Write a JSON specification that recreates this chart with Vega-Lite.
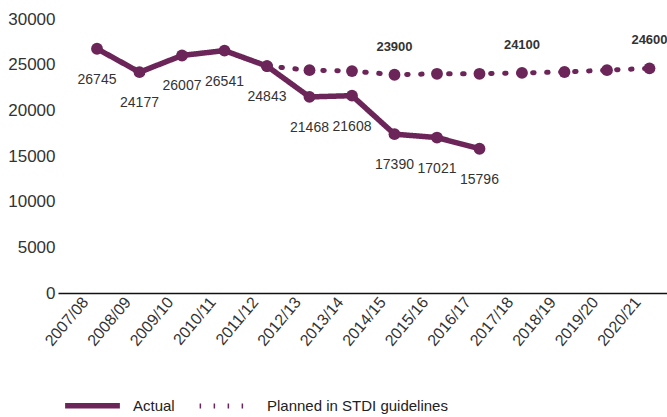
{
  "$schema": "https://vega.github.io/schema/vega-lite/v6.json",
  "width": 609,
  "height": 274,
  "autosize": {"type": "none"},
  "padding": {"left": 58, "top": 19, "right": 0, "bottom": 124},
  "background": "white",
  "config": {
    "view": {"stroke": null},
    "font": "Liberation Sans",
    "axis": {"grid": false, "ticks": false, "labelFont": "Liberation Sans", "labelColor": "#333333"}
  },
  "data": {
    "values": [
      {"year": "2007/08", "series": "Actual", "value": 26745, "show": true},
      {"year": "2008/09", "series": "Actual", "value": 24177, "show": true},
      {"year": "2009/10", "series": "Actual", "value": 26007, "show": true},
      {"year": "2010/11", "series": "Actual", "value": 26541, "show": true},
      {"year": "2011/12", "series": "Actual", "value": 24843, "show": true},
      {"year": "2012/13", "series": "Actual", "value": 21468, "show": true},
      {"year": "2013/14", "series": "Actual", "value": 21608, "show": true},
      {"year": "2014/15", "series": "Actual", "value": 17390, "show": true},
      {"year": "2015/16", "series": "Actual", "value": 17021, "show": true},
      {"year": "2016/17", "series": "Actual", "value": 15796, "show": true},
      {"year": "2011/12", "series": "Planned in STDI guidelines", "value": 24843, "show": false},
      {"year": "2012/13", "series": "Planned in STDI guidelines", "value": 24400, "show": false},
      {"year": "2013/14", "series": "Planned in STDI guidelines", "value": 24300, "show": false},
      {"year": "2014/15", "series": "Planned in STDI guidelines", "value": 23900, "show": true},
      {"year": "2015/16", "series": "Planned in STDI guidelines", "value": 24000, "show": false},
      {"year": "2016/17", "series": "Planned in STDI guidelines", "value": 24000, "show": false},
      {"year": "2017/18", "series": "Planned in STDI guidelines", "value": 24100, "show": true},
      {"year": "2018/19", "series": "Planned in STDI guidelines", "value": 24200, "show": false},
      {"year": "2019/20", "series": "Planned in STDI guidelines", "value": 24400, "show": false},
      {"year": "2020/21", "series": "Planned in STDI guidelines", "value": 24600, "show": true}
    ]
  },
  "encoding": {
    "x": {
      "field": "year",
      "type": "ordinal",
      "sort": null,
      "scale": {"type": "point", "padding": 0.665, "align": 0.69,
        "domain": ["2007/08","2008/09","2009/10","2010/11","2011/12","2012/13","2013/14","2014/15","2015/16","2016/17","2017/18","2018/19","2019/20","2020/21"]},
      "axis": {
        "title": null,
        "domain": true,
        "domainColor": "#111111",
        "domainWidth": 1.5,
        "labelAngle": -50,
        "labelAlign": "right",
        "labelBaseline": "middle",
        "labelOffset": -12,
        "labelPadding": 6,
        "labelFontSize": 16
      }
    },
    "y": {
      "field": "value",
      "type": "quantitative",
      "scale": {"domain": [0, 30000], "nice": false},
      "axis": {
        "title": null,
        "domain": false,
        "values": [0, 5000, 10000, 15000, 20000, 25000, 30000],
        "labelPadding": 3,
        "labelFontSize": 17,
        "format": "d"
      }
    }
  },
  "layer": [
    {
      "mark": {"type": "line", "strokeCap": "round", "strokeJoin": "round"},
      "encoding": {
        "color": {
          "field": "series",
          "type": "nominal",
          "scale": {"range": ["#6b2558", "#6b2558"]},
          "legend": null
        },
        "strokeDash": {
          "field": "series",
          "type": "nominal",
          "scale": {"range": [[1, 0], [1.5, 12.5]]},
          "legend": {
            "title": null,
            "orient": "none",
            "direction": "horizontal",
            "legendX": 4,
            "legendY": 356,
            "symbolType": "stroke",
            "symbolSize": 3000,
            "symbolStrokeWidth": 5,
            "symbolStrokeColor": "#6b2558",
            "labelFontSize": 15,
            "labelColor": "#222222",
            "labelOffset": 10,
            "labelLimit": 400,
            "columnPadding": 14
          }
        },
        "strokeWidth": {
          "field": "series",
          "type": "nominal",
          "scale": {"range": [5.5, 5]},
          "legend": null
        }
      }
    },
    {
      "mark": {"type": "point", "filled": true, "opacity": 1, "size": 140, "shape": "circle"},
      "encoding": {
        "color": {"field": "series", "type": "nominal", "legend": null}
      }
    },
    {
      "transform": [{"filter": "datum.series === 'Actual'"}],
      "mark": {"type": "text", "dy": 31, "fontSize": 14, "color": "#333333"},
      "encoding": {"text": {"field": "value", "type": "quantitative", "format": "d"}}
    },
    {
      "transform": [{"filter": "datum.series !== 'Actual' && datum.show"}],
      "mark": {"type": "text", "dy": -28, "fontSize": 13, "fontWeight": "bold", "color": "#333333"},
      "encoding": {"text": {"field": "value", "type": "quantitative", "format": "d"}}
    }
  ]
}
